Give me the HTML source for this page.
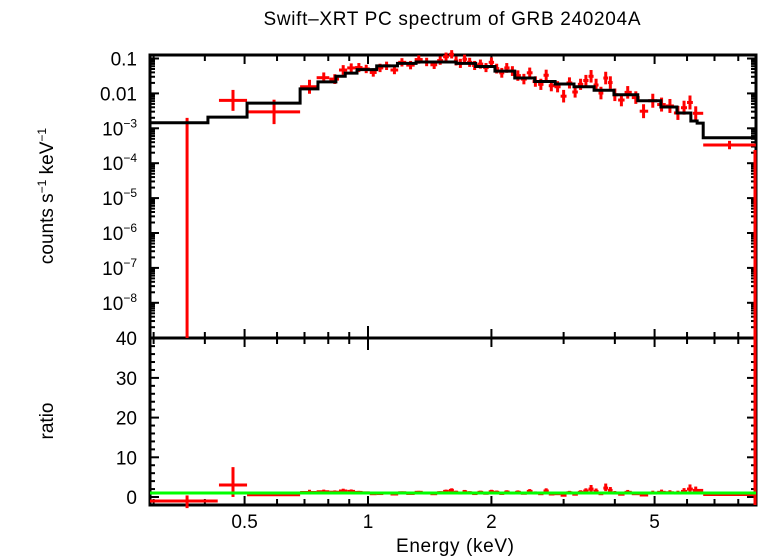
<!DOCTYPE html>
<html><head><meta charset="utf-8"><style>
body{margin:0;background:#fff}
svg{display:block;font-family:"Liberation Sans",sans-serif}
</style></head><body>
<svg id="c" width="758" height="556" viewBox="0 0 758 556">
<text x="452" y="25" font-size="19" text-anchor="middle" textLength="377">Swift–XRT PC spectrum of GRB 240204A</text>
<text x="455" y="552" font-size="19" text-anchor="middle" textLength="118">Energy (keV)</text>
<text transform="translate(53,196) rotate(-90)" font-size="19" text-anchor="middle">counts s<tspan font-size="12" dy="-7">−1</tspan><tspan dy="7"> keV</tspan><tspan font-size="12" dy="-7">−1</tspan></text>
<text transform="translate(53,421) rotate(-90)" font-size="19" text-anchor="middle">ratio</text>
<g id="g"></g>
</svg>
<script>
// model step edges (keV) and log10 model values per bin
const modelEdges=[0.294,0.407,0.507,0.683,0.755,0.835,0.88,0.94,1.05,1.18,1.31,1.64,1.83,2.04,2.28,2.55,2.86,3.18,3.56,3.98,4.55,5.18,5.67,6.13,6.35,6.57,8.83];
const modelLog=[-2.84,-2.68,-2.28,-1.87,-1.67,-1.51,-1.42,-1.32,-1.21,-1.14,-1.10,-1.14,-1.23,-1.36,-1.56,-1.66,-1.73,-1.81,-1.91,-2.04,-2.21,-2.39,-2.56,-2.79,-2.85,-3.27];
// data point energies and residual (dex) from model
const dataE=[0.59,0.72,0.78,0.83,0.87,0.91,0.95,0.99,1.03,1.07,1.11,1.16,1.21,1.27,1.33,1.39,1.45,1.5,1.55,1.6,1.64,1.68,1.72,1.77,1.82,1.88,1.94,2.0,2.06,2.12,2.18,2.25,2.32,2.4,2.48,2.56,2.64,2.72,2.8,2.9,3.0,3.1,3.2,3.3,3.4,3.5,3.6,3.7,3.8,3.9,4.0,4.15,4.3,4.5,4.7,4.95,5.2,5.45,5.7,5.9,6.1,6.3];
const dataResid=[-0.25,0.06,0.12,0.08,0.18,0.15,0.06,0.02,-0.08,-0.06,0.0,-0.12,0.03,-0.05,0.07,0.0,-0.08,0.04,0.15,0.22,0.07,0.0,0.12,0.03,-0.06,0.07,-0.03,0.12,0.07,-0.05,0.09,0.0,0.07,-0.03,0.15,0.0,-0.08,0.18,-0.12,-0.08,-0.35,0.03,-0.15,0.07,0.18,0.3,0.15,-0.08,0.35,0.22,0.0,-0.15,0.07,-0.08,-0.3,0.0,0.07,0.03,0.0,0.15,0.3,0.22];
const dataErr=[0.35,0.2,0.15,0.14,0.14,0.13,0.13,0.12,0.12,0.12,0.12,0.12,0.12,0.12,0.12,0.12,0.12,0.12,0.12,0.12,0.13,0.13,0.13,0.13,0.13,0.13,0.13,0.14,0.14,0.14,0.14,0.14,0.15,0.15,0.15,0.15,0.16,0.16,0.16,0.16,0.18,0.16,0.16,0.16,0.16,0.18,0.18,0.18,0.18,0.18,0.18,0.18,0.18,0.18,0.2,0.2,0.2,0.2,0.2,0.2,0.2,0.2];
// special low/high energy bins
const extraLo=[0.433,6.57], extraHi=[0.507,8.83], extraLog=[-2.2,-3.48], extraErr=[0.3,0.12];
const yTopTicks=[-1,-2,-3,-4,-5,-6,-7,-8];
const xTickLabels=[0.5,1,2,5];
const ratioTicks=[0,10,20,30,40];

const NS="http://www.w3.org/2000/svg",G=document.getElementById('g');
const L=150,R=756,T=55,M=338,B=505;
const X=e=>368+410*Math.log10(e);
const YT=lg=>58.5+(-1-lg)*34.9;
const YR=r=>497-r*3.97;
function el(t,a,p){const e=document.createElementNS(NS,t);for(const k in a)e.setAttribute(k,a[k]);(p||G).appendChild(e);return e;}
function modelAt(E){for(let i=0;i<modelLog.length;i++)if(E<modelEdges[i+1])return modelLog[i];return modelLog[modelLog.length-1];}

let f=el('rect',{x:L,y:T,width:R-L,height:B-T,fill:'none',stroke:'#000','stroke-width':3});


let mid=el('line',{x1:L,x2:R,y1:M,y2:M,stroke:'#000','stroke-width':3});



const minors=[0.3,0.4,0.6,0.7,0.8,0.9,3,4,6,7,8],majors=[0.5,1,2,5];
minors.concat(majors).forEach(e=>{const x=X(e),len=majors.includes(e)?9:6;
 [[T,T+len],[M-len,M+len],[B,B-len]].forEach(s=>{el('line',{x1:x,x2:x,y1:s[0],y2:s[1],stroke:'#000','stroke-width':2});});});
el('line',{x1:X(1),x2:X(1),y1:M-12,y2:M+12,stroke:'#000','stroke-width':2});
xTickLabels.forEach(v=>{const t=el('text',{x:X(v),y:528,'font-size':19,'text-anchor':'middle'});t.textContent=v;
 
 });

for(let d=-1;d>=-9;d--){for(let m=1;m<10;m++){const lg=d+Math.log10(m),y=YT(lg);if(y<T||y>M)continue;const len=m==1?9:5;
 el('line',{x1:L,x2:L+len,y1:y,y2:y,stroke:'#000','stroke-width':2});el('line',{x1:R,x2:R-len,y1:y,y2:y,stroke:'#000','stroke-width':2});}}
yTopTicks.forEach(d=>{const y=YT(d);const t=el('text',{x:137,y:y+7,'font-size':19,'text-anchor':'end'});
 if(d==-1)t.textContent='0.1';else if(d==-2)t.textContent='0.01';else{t.textContent='10';const s=el('tspan',{'font-size':12,dy:-8},t);s.textContent='−'+(-d);}
 
 });

for(let r=-2;r<=40;r+=2){const y=YR(r);if(y>B)continue;const len=r%10==0?9:5;
 el('line',{x1:L,x2:L+len,y1:y,y2:y,stroke:'#000','stroke-width':2});el('line',{x1:R,x2:R-len,y1:y,y2:y,stroke:'#000','stroke-width':2});}
ratioTicks.forEach(r=>{const t=el('text',{x:137,y:YR(r)+7,'font-size':19,'text-anchor':'end'});t.textContent=r;
 
 });

const red='#f00';
function cross(xl,xr,xc,y,y1,y2,name){const g=el('g',{});
 
 
 el('line',{x1:xl,x2:xr,y1:y,y2:y,stroke:red,'stroke-width':3},g);
 el('line',{x1:xc,x2:xc,y1:y1,y2:y2,stroke:red,'stroke-width':3},g);}

const edges=[];for(let i=0;i<dataE.length;i++){const lo=i==0?0.507:Math.sqrt(dataE[i-1]*dataE[i]);const hi=i==dataE.length-1?6.57:Math.sqrt(dataE[i]*dataE[i+1]);edges.push([lo,i==0?0.683:hi]);}
edges[1][0]=0.683;
dataE.forEach((E,i)=>{const m=modelAt(E),v=m+dataResid[i],er=dataErr[i];
 cross(X(edges[i][0]),X(edges[i][1]),X(E),YT(v),YT(v+er),YT(v-er),'data-point');
 const r=Math.pow(10,dataResid[i]),rl=Math.pow(10,dataResid[i]-er),rh=Math.pow(10,dataResid[i]+er);
 cross(X(edges[i][0]),X(edges[i][1]),X(E),YR(r),YR(rh),YR(rl),'ratio-point');});
extraLo.forEach((lo,i)=>{const hi=extraHi[i],E=Math.sqrt(lo*hi),v=extraLog[i],er=extraErr[i],m=modelAt(E);
 cross(X(lo),X(hi),X(E),YT(v),YT(v+er),YT(v-er),'data-point');
 const r=Math.pow(10,v-m);cross(X(lo),X(hi),X(E),YR(r),YR(r*Math.pow(10,er)+(i==0?1.5:0)),YR(r/Math.pow(10,er)-(i==0?1.5:0)),'ratio-point');});
let lv=el('line',{x1:X(0.362),x2:X(0.362),y1:YT(-2.7),y2:M,stroke:red,'stroke-width':3});


cross(L,X(0.43),X(0.362),YR(-1.0),YR(0.4),YR(-2.8),'ratio-point-lowest');
let rl=el('line',{x1:755,x2:755,y1:150,y2:B,stroke:red,'stroke-width':3});



let d='';modelLog.forEach((v,i)=>{const y=YT(v);d+=(i==0?'M':'L')+X(modelEdges[i])+','+y+'L'+X(modelEdges[i+1])+','+y;});
let mp=el('path',{d:d,fill:'none',stroke:'#000','stroke-width':3});


let gl=el('line',{x1:L,x2:R,y1:YR(1),y2:YR(1),stroke:'#0f0','stroke-width':3});


</script>
</body></html>
